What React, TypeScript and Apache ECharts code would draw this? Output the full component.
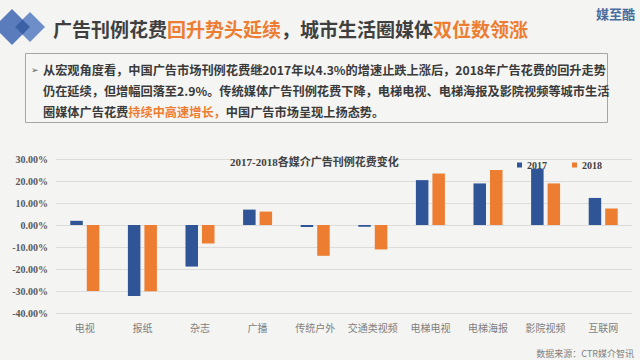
import React, { useEffect, useRef } from "react";
import * as echarts from "echarts";

const categories = ["电视", "报纸", "杂志", "广播", "传统户外", "交通类视频", "电梯电视", "电梯海报", "影院视频", "互联网"];
const series2017 = [1.9, -32.3, -18.9, 7.0, -0.9, -0.8, 20.4, 18.9, 25.6, 12.3];
const series2018 = [-30.0, -30.1, -8.4, 6.1, -14.0, -11.1, 23.4, 25.0, 18.9, 7.5];
const seriesNames = ["2017", "2018"];
const yMin = -40;
const yMax = 30;
const yInterval = 10;

const headline = [
  { t: "广告刊例花费", o: false },
  { t: "回升势头延续", o: true },
  { t: "，城市生活圈媒体", o: false },
  { t: "双位数领涨", o: true },
];
const bodyLines = [
  [{ t: "从宏观角度看，中国广告市场刊例花费继2017年以4.3%的增速止跌上涨后，2018年广告花费的回升走势", o: false }],
  [{ t: "仍在延续，但增幅回落至2.9%。传统媒体广告刊例花费下降，电梯电视、电梯海报及影院视频等城市生活", o: false }],
  [
    { t: "圈媒体广告花费", o: false },
    { t: "持续中高速增长，", o: true },
    { t: "中国广告市场呈现上扬态势。", o: false },
  ],
];

const CJK = "'Noto Sans CJK SC', 'Noto Sans', sans-serif";
const SERIF = "'Liberation Serif', 'DejaVu Serif', 'Noto Sans CJK SC', serif";

export default function App() {
  const ref = useRef<HTMLDivElement>(null);
  useEffect(() => {
    if (!ref.current) return;
    const chart = echarts.init(ref.current, null, { renderer: "svg" });
    const headText = headline.map((s) => `{${s.o ? "o" : "n"}|${s.t}}`).join("");
    const bodyText = bodyLines
      .map((line) => line.map((s) => `{${s.o ? "o" : "n"}|${s.t}}`).join(""))
      .join("\n");
    chart.setOption({
      animation: false,
      backgroundColor: "#F4F4F2",
      title: {
        text: "2017-2018各媒介广告刊例花费变化",
        left: 225,
        top: 151,
        textStyle: { fontFamily: SERIF, fontWeight: "bold", fontSize: 11, color: "#404040" },
      },
      legend: {
        data: seriesNames,
        left: 512,
        top: 155,
        icon: "rect",
        itemWidth: 5,
        itemHeight: 5,
        itemGap: 25,
        textStyle: { fontFamily: SERIF, fontWeight: "bold", fontSize: 10, color: "#404040" },
      },
      grid: { left: 56, right: 8, top: 159, bottom: 47 },
      xAxis: {
        type: "category",
        data: categories,
        axisLine: { show: false, onZero: false },
        axisTick: { show: false },
        axisLabel: { interval: 0, margin: 9, fontSize: 10, fontFamily: CJK, color: "#7F7F7F" },
        splitLine: { show: false },
      },
      yAxis: {
        type: "value",
        min: yMin,
        max: yMax,
        interval: yInterval,
        axisLine: { show: false },
        axisTick: { show: false },
        axisLabel: {
          margin: 8,
          fontSize: 10,
          fontFamily: SERIF,
          fontWeight: "bold",
          color: "#595959",
          formatter: (v: number) => `${v.toFixed(2)}%`,
        },
        splitLine: { lineStyle: { color: "#DCDCDC", width: 1 } },
      },
      series: [
        {
          name: seriesNames[0],
          type: "bar",
          data: series2017,
          barWidth: 12.5,
          barGap: "32%",
          itemStyle: { color: "#2F5597" },
        },
        {
          name: seriesNames[1],
          type: "bar",
          data: series2018,
          barWidth: 12.5,
          itemStyle: { color: "#ED7D31" },
        },
      ],
      graphic: [
        { type: "polygon", shape: { points: [[12, 9], [30, 27], [12, 45], [-6, 27]] }, style: { fill: "#5B7CBC" } },
        { type: "polygon", shape: { points: [[30, 12], [45, 27], [30, 42], [15, 27]] }, style: { fill: "#6E8ECA" } },
        { type: "polygon", shape: { points: [[22.5, 19.5], [30, 27], [22.5, 34.5], [15, 27]] }, style: { fill: "#3B60A5" } },
        {
          type: "text",
          x: 53,
          y: 28,
          style: {
            text: headText,
            verticalAlign: "middle",
            rich: {
              n: { fontFamily: CJK, fontSize: 19, fontWeight: "bold", fill: "#3F3F3F" },
              o: { fontFamily: CJK, fontSize: 19, fontWeight: "bold", fill: "#ED7D31" },
            },
          },
        },
        {
          type: "text",
          x: 635,
          y: 13,
          style: { text: "媒至酷", align: "right", verticalAlign: "middle", fontFamily: CJK, fontSize: 13, fontWeight: "bold", fill: "#4A6C9E" },
        },
        {
          type: "rect",
          shape: { x: 25.5, y: 53.5, width: 582, height: 69 },
          style: { fill: "rgba(255,255,255,0.15)", stroke: "#A6A6A6", lineWidth: 1 },
        },
        {
          type: "text",
          x: 31,
          y: 70,
          style: { text: "➢", verticalAlign: "middle", fontFamily: "'DejaVu Sans'", fontSize: 9, fill: "#595959" },
        },
        {
          type: "text",
          x: 43,
          y: 59.5,
          style: {
            text: bodyText,
            verticalAlign: "top",
            rich: {
              n: { fontFamily: CJK, fontSize: 12.2, fontWeight: "bold", fill: "#3A3A3A", lineHeight: 21 },
              o: { fontFamily: CJK, fontSize: 12.2, fontWeight: "bold", fill: "#ED7D31", lineHeight: 21 },
            },
          },
        },
        {
          type: "text",
          x: 634,
          y: 353,
          style: { text: "数据来源：CTR媒介智讯", align: "right", verticalAlign: "middle", fontFamily: CJK, fontSize: 9, fill: "#808080" },
        },
      ],
    });
    return () => chart.dispose();
  }, []);
  return <div ref={ref} style={{ position: "fixed", left: 0, top: 0, width: 640, height: 360 }} />;
}
